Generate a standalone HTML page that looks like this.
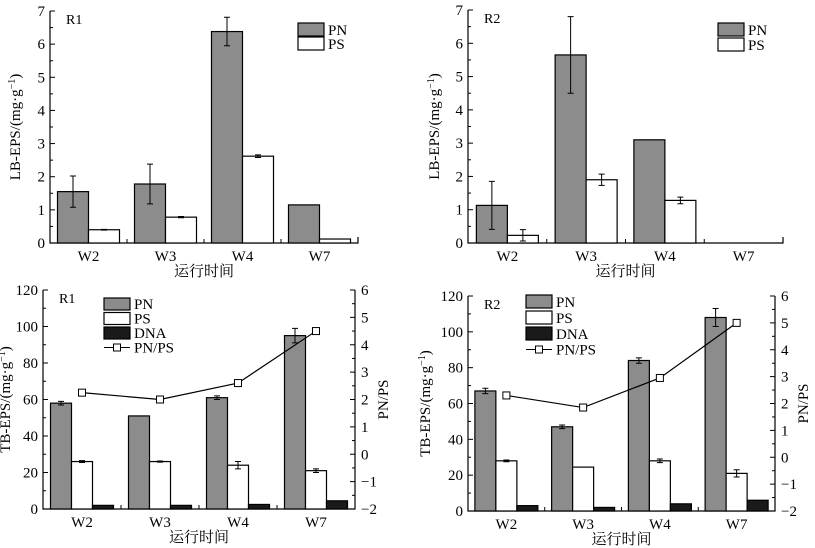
<!DOCTYPE html>
<html><head><meta charset="utf-8"><style>
body{margin:0;background:#fff;}
svg{display:block;font-family:"Liberation Serif","Noto Serif CJK SC",serif;}
</style></head><body>
<svg id="c" width="815" height="548" viewBox="0 0 815 548"></svg>
<script>
const categories=["W2","W3","W4","W7"];
const lbR1PN=[1.55,1.78,6.38,1.15];
const lbR1PNerr=[0.47,0.6,0.43,0];
const lbR1PS=[0.4,0.78,2.62,0.12];
const lbR1PSerr=[0.01,0.02,0.04,0];
const lbR2PN=[1.13,5.65,3.1,0];
const lbR2PNerr=[0.72,1.15,0,0];
const lbR2PS=[0.23,1.9,1.28,0];
const lbR2PSerr=[0.17,0.17,0.1,0];
const tbR1PN=[58,51,61,95];
const tbR1PNerr=[1,0,1,4];
const tbR1PS=[26,26,24,21];
const tbR1PSerr=[0.5,0.3,2,1];
const tbR1DNA=[2,2,2.5,4.5];
const tbR1Ratio=[2.25,2.0,2.6,4.5];
const tbR2PN=[67,47,84,108];
const tbR2PNerr=[1.5,1,1.5,5];
const tbR2PS=[28,24.5,28,21];
const tbR2PSerr=[0.5,0,1,2];
const tbR2DNA=[3,2,4,6];
const tbR2Ratio=[2.3,1.85,2.95,5.0];
const lbTicks=[0,1,2,3,4,5,6,7];
const tbTicks=[0,20,40,60,80,100,120];
const ratioTicks=[-2,-1,0,1,2,3,4,5,6];

const NS="http://www.w3.org/2000/svg";
const svg=document.getElementById('c');
function mk(tag,at,parent,txt){const e=document.createElementNS(NS,tag);for(const k in at)e.setAttribute(k,at[k]);if(txt!==undefined)e.textContent=txt;(parent||svg).appendChild(e);return e;}

function panel(o){
  const g=mk('g',{});
  
  
  const y=v=>o.y0-(v-o.ymin)/(o.ymax-o.ymin)*(o.y0-o.ytop);
  const cw=(o.x1-o.x0)/categories.length;
  const cx=i=>o.x0+cw*(i+0.5);
  const ax=mk('path',{d:`M${o.x0},${o.ytop}V${o.y0}H${o.x1}`+(o.right?`V${o.ytop}`:`V${o.y0-6}`),fill:'none',stroke:'#000','stroke-width':1.2},g);
  
  o.ticks.forEach((t,k)=>{
    mk('line',{x1:o.x0,x2:o.x0+5,y1:y(t),y2:y(t),stroke:'#000'},g);
    if(k<o.ticks.length-1){const m=(t+o.ticks[k+1])/2;mk('line',{x1:o.x0,x2:o.x0+3,y1:y(m),y2:y(m),stroke:'#000'},g);}
    const tl=mk('text',{x:o.x0-5,y:y(t)+5,'text-anchor':'end','font-size':15},g,String(t));
    
  });
  for(let i=1;i<categories.length;i++){const xx=o.x0+cw*i;mk('line',{x1:xx,x2:xx,y1:o.y0,y2:o.y0-4,stroke:'#000'},g);}
  categories.forEach((c,i)=>{const t=mk('text',{x:cx(i),y:o.y0+18,'text-anchor':'middle','font-size':15},g,c);
    });
  const xt=mk('text',{x:(o.x0+o.x1)/2,y:o.y0+33,'text-anchor':'middle','font-size':15},g,'运行时间');
  
  const yt=mk('text',{x:0,y:0,'text-anchor':'middle','font-size':15,transform:`translate(${o.ylx},${(o.ytop+o.y0)/2}) rotate(-90)`},g);
  
  yt.innerHTML=o.ylabel+'/(mg·g<tspan dy="-5" font-size="10">−1</tspan><tspan dy="5">)</tspan>';
  const lab=mk('text',{x:o.x0+16,y:o.ytop+13,'font-size':14},g,o.tag);
  
  const fills=['#8c8c8c','#fff','#1a1a1a'];
  const n=o.series.length;const bw=o.bw;
  o.series.forEach((s,si)=>{
    s.vals.forEach((v,i)=>{
      const bx=cx(i)-n*bw/2+si*bw;
      const r=mk('rect',{x:bx,y:y(v),width:bw,height:o.y0-y(v),fill:fills[si],stroke:'#000','stroke-width':1.2},g);
      
      
      if(s.err&&s.err[i]>0){const mx=bx+bw/2;
        mk('path',{d:`M${mx},${y(v+s.err[i])}V${y(v-s.err[i])}M${mx-3},${y(v+s.err[i])}h6M${mx-3},${y(v-s.err[i])}h6`,stroke:'#000',fill:'none'},g);}
    });
  });
  if(o.right){
    const yr=v=>o.y0-(v+2)/8*(o.y0-o.ytop);
    ratioTicks.forEach((t,k)=>{
      mk('line',{x1:o.x1,x2:o.x1-5,y1:yr(t),y2:yr(t),stroke:'#000'},g);
      if(k<ratioTicks.length-1)mk('line',{x1:o.x1,x2:o.x1-3,y1:yr(t+0.5),y2:yr(t+0.5),stroke:'#000'},g);
      const tl=mk('text',{x:o.x1+6,y:yr(t)+5,'font-size':15},g,t<0?'−'+(-t):String(t));
      
    });
    const rt=mk('text',{x:0,y:0,'text-anchor':'middle','font-size':15,transform:`translate(${o.x1+33},${(o.ytop+o.y0)/2}) rotate(-90)`},g,'PN/PS');
    
    const pts=o.ratio.map((v,i)=>[cx(i),yr(v)]);
    const pl=mk('polyline',{points:pts.map(p=>p.join(',')).join(' '),fill:'none',stroke:'#000','stroke-width':1.2},g);
    
    pts.forEach(p=>{const m=mk('rect',{x:p[0]-3.5,y:p[1]-3.5,width:7,height:7,fill:'#fff',stroke:'#000'},g);
      });
  }
  const L=o.legend;
  o.series.forEach((s,si)=>{
    const ly=L.y+si*L.dy;
    const r=mk('rect',{x:L.x,y:ly,width:26,height:L.h,fill:fills[si],stroke:'#000','stroke-width':1.2},g);
    
    const t=mk('text',{x:L.x+30,y:ly+L.h-1,'font-size':15},g,s.key);
    
  });
  if(o.right){const ly=L.y+n*L.dy+L.h/2;
    mk('line',{x1:L.x,x2:L.x+26,y1:ly,y2:ly,stroke:'#000'},g);
    mk('rect',{x:L.x+9.5,y:ly-3.5,width:7,height:7,fill:'#fff',stroke:'#000'},g);
    const t=mk('text',{x:L.x+30,y:ly+5,'font-size':15},g,'PN/PS');
    }
}
panel({name:'lb-r1-chart',tag:'R1',x0:50,x1:358,y0:243,ytop:11,ymin:0,ymax:7,ticks:lbTicks,bw:31,ylabel:'LB-EPS',ylx:20,
  series:[{key:'PN',vals:lbR1PN,err:lbR1PNerr},{key:'PS',vals:lbR1PS,err:lbR1PSerr}],legend:{x:298,y:23,dy:14,h:13}});
panel({name:'lb-r2-chart',tag:'R2',x0:468,x1:783,y0:243,ytop:10,ymin:0,ymax:7,ticks:lbTicks,bw:31,ylabel:'LB-EPS',ylx:439,
  series:[{key:'PN',vals:lbR2PN,err:lbR2PNerr},{key:'PS',vals:lbR2PS,err:lbR2PSerr}],legend:{x:718,y:23,dy:15,h:13}});
panel({name:'tb-r1-chart',tag:'R1',x0:43,x1:355,y0:509,ytop:290,ymin:0,ymax:120,ticks:tbTicks,bw:21,ylabel:'TB-EPS',ylx:10,right:true,ratio:tbR1Ratio,
  series:[{key:'PN',vals:tbR1PN,err:tbR1PNerr},{key:'PS',vals:tbR1PS,err:tbR1PSerr},{key:'DNA',vals:tbR1DNA}],legend:{x:104,y:298,dy:14.5,h:12}});
panel({name:'tb-r2-chart',tag:'R2',x0:468,x1:775,y0:511,ytop:296,ymin:0,ymax:120,ticks:tbTicks,bw:21,ylabel:'TB-EPS',ylx:430,right:true,ratio:tbR2Ratio,
  series:[{key:'PN',vals:tbR2PN,err:tbR2PNerr},{key:'PS',vals:tbR2PS,err:tbR2PSerr},{key:'DNA',vals:tbR2DNA}],legend:{x:526,y:295,dy:16,h:13}});
</script>
</body></html>
